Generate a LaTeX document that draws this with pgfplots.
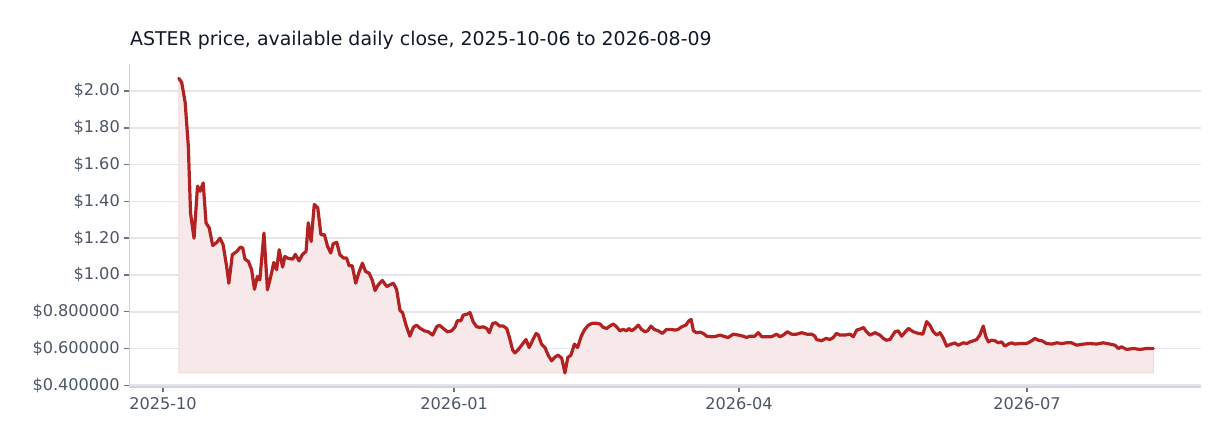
\documentclass[border=0pt]{standalone}
\usepackage{fontspec}
\setmainfont{DejaVu Sans}
\usepackage{pgfplots}
\usepackage{pgfplotstable}
\pgfplotsset{compat=1.18}
\usepgfplotslibrary{fillbetween}

\definecolor{linered}{RGB}{178,34,34}
\definecolor{areafill}{RGB}{247,233,233}
\definecolor{areaedge}{RGB}{242,216,216}
\definecolor{gridgray}{RGB}{228,230,235}
\definecolor{axisgray}{RGB}{209,213,219}
\definecolor{tickgray}{RGB}{107,114,128}
\definecolor{labelgray}{RGB}{75,85,99}
\definecolor{titleblack}{RGB}{17,24,39}

% day 0 = 2025-10-01, close in USD
\pgfplotstableread{
day price
5.0 2.069
5.9 2.047
7.0 1.938
8.0 1.700
8.7 1.337
9.8 1.200
10.9 1.483
11.7 1.455
12.7 1.500
13.6 1.283
14.6 1.256
15.7 1.160
17.0 1.177
18.0 1.200
19.0 1.164
20.1 1.046
20.8 0.955
21.9 1.110
23.3 1.128
24.5 1.152
25.2 1.146
25.9 1.086
27.0 1.073
28.0 1.028
28.9 0.922
29.8 0.991
30.6 0.973
31.9 1.228
33.0 0.919
34.3 1.010
35.0 1.068
35.9 1.028
36.7 1.137
37.8 1.043
38.5 1.100
39.6 1.090
41.0 1.086
41.8 1.112
43.0 1.076
44.0 1.110
45.2 1.128
45.9 1.283
46.8 1.182
47.8 1.383
48.9 1.365
49.9 1.219
51.0 1.219
52.0 1.155
53.0 1.119
53.8 1.170
54.9 1.177
55.9 1.110
57.0 1.092
58.0 1.092
58.8 1.050
59.8 1.050
60.9 0.955
61.9 1.013
63.0 1.064
64.0 1.019
65.1 1.010
66.1 0.973
67.0 0.915
68.0 0.946
69.3 0.970
70.7 0.937
71.7 0.946
72.8 0.955
73.8 0.922
74.9 0.806
75.7 0.795
76.8 0.727
78.0 0.667
79.1 0.715
80.1 0.727
81.3 0.709
82.6 0.696
83.8 0.691
85.2 0.673
86.5 0.718
87.3 0.727
88.6 0.709
89.8 0.691
91.2 0.696
92.3 0.718
93.0 0.751
94.1 0.751
94.9 0.782
96.0 0.786
97.0 0.795
98.0 0.746
99.1 0.718
100.2 0.715
101.2 0.718
102.3 0.709
103.1 0.686
104.2 0.737
105.2 0.740
106.3 0.722
107.5 0.722
108.6 0.709
109.4 0.664
110.5 0.591
111.2 0.576
112.3 0.595
113.3 0.618
114.7 0.649
115.7 0.605
116.8 0.645
117.9 0.682
118.6 0.673
119.6 0.624
120.7 0.605
121.7 0.564
122.8 0.533
123.9 0.554
124.9 0.564
126.0 0.546
127.0 0.467
127.9 0.551
128.9 0.564
130.0 0.624
131.0 0.605
132.1 0.664
133.1 0.700
134.4 0.727
135.6 0.737
137.0 0.737
138.1 0.733
139.1 0.715
140.2 0.709
141.2 0.722
142.3 0.733
143.3 0.718
144.4 0.696
145.4 0.704
146.5 0.696
147.2 0.709
148.1 0.696
149.1 0.709
150.2 0.727
151.2 0.704
152.3 0.691
153.1 0.696
154.2 0.722
155.2 0.704
156.5 0.696
157.8 0.682
159.1 0.704
160.5 0.704
161.8 0.700
162.8 0.704
163.9 0.718
165.2 0.727
166.2 0.751
166.9 0.758
167.6 0.696
168.6 0.686
169.7 0.689
170.7 0.682
171.8 0.667
173.4 0.664
174.4 0.665
176.0 0.673
177.6 0.664
178.6 0.660
180.2 0.678
181.8 0.673
183.3 0.667
184.4 0.660
185.5 0.667
187.0 0.667
188.1 0.686
189.2 0.664
190.7 0.664
192.3 0.664
193.9 0.678
194.9 0.664
196.0 0.673
197.3 0.691
198.6 0.678
200.2 0.678
201.8 0.686
203.4 0.678
205.0 0.678
206.0 0.667
206.5 0.649
208.1 0.642
209.5 0.655
210.7 0.649
211.8 0.660
212.8 0.682
213.9 0.673
215.5 0.673
217.1 0.678
218.1 0.664
219.2 0.700
220.8 0.709
221.3 0.715
222.3 0.691
223.4 0.673
225.0 0.686
226.5 0.673
227.6 0.655
228.6 0.645
229.7 0.649
231.3 0.691
232.3 0.696
233.4 0.667
235.5 0.709
237.1 0.691
238.7 0.682
240.1 0.678
241.3 0.746
242.3 0.727
243.4 0.691
244.5 0.673
245.5 0.686
246.6 0.655
247.6 0.613
248.7 0.622
250.2 0.630
251.3 0.618
252.9 0.631
254.0 0.627
255.0 0.636
256.1 0.642
257.1 0.649
258.1 0.673
259.2 0.722
260.0 0.664
260.8 0.636
261.8 0.645
262.9 0.642
263.9 0.631
265.0 0.636
266.0 0.613
267.1 0.624
268.1 0.631
269.2 0.624
270.8 0.627
272.9 0.627
274.5 0.642
275.5 0.655
276.6 0.645
277.7 0.642
279.2 0.627
280.8 0.624
282.4 0.631
284.0 0.627
285.5 0.631
287.1 0.631
288.7 0.618
290.8 0.624
292.9 0.627
295.0 0.624
297.1 0.631
299.2 0.624
300.8 0.618
301.9 0.600
302.9 0.609
304.5 0.595
306.6 0.600
308.7 0.595
310.8 0.600
312.9 0.600
}\aster

\begin{document}
\begin{tikzpicture}[x=1bp,y=1bp]
\begin{axis}[
    at={(129.3bp,60.7bp)}, anchor=south west,
    scale only axis, width=1071.4bp, height=323.3bp,
    xmin=-10.65, xmax=327.9, ymin=0.389, ymax=2.147,
    axis x line*=bottom, axis y line*=left,
    axis line style={draw=axisgray, line width=1.6bp, -},
    tick align=outside, major tick length=5bp,
    tick style={draw=tickgray, line width=1.4bp},
    xtick={0,92,182,273},
    xticklabels={2025-10,2026-01,2026-04,2026-07},
    ytick={0.4,0.6,0.8,1.0,1.2,1.4,1.6,1.8,2.0},
    yticklabels={\$0.400000,\$0.600000,\$0.800000,\$1.00,\$1.20,\$1.40,\$1.60,\$1.80,\$2.00},
    minor tick num=0,
    ymajorgrids, grid style={draw=gridgray, line width=1.6bp},
    tick label style={font=\fontsize{16.2}{19}\selectfont, text=labelgray},
    yticklabel style={xshift=-1bp},
    xticklabel style={yshift=-2bp},
    clip=false,
]
\addplot[draw=none, name path=price, forget plot] table[x=day, y=price] {\aster};
\addplot[draw=none, name path=base, forget plot] coordinates {(5.0,0.467) (312.9,0.467)};
\addplot[fill=areafill, draw=areaedge, line width=1bp, forget plot] fill between[of=price and base];
\addplot[draw=linered, line width=3.2bp, line join=round, line cap=round, mark=none] table[x=day, y=price] {\aster};
\end{axis}
\node[anchor=base west, inner sep=0pt, text=titleblack, font=\fontsize{19}{23}\selectfont] at (130bp,402bp) {ASTER price, available daily close, 2025-10-06 to 2026-08-09};
\pgfresetboundingbox
\path (0,0) rectangle (1232bp,448bp);
\end{tikzpicture}
\end{document}
